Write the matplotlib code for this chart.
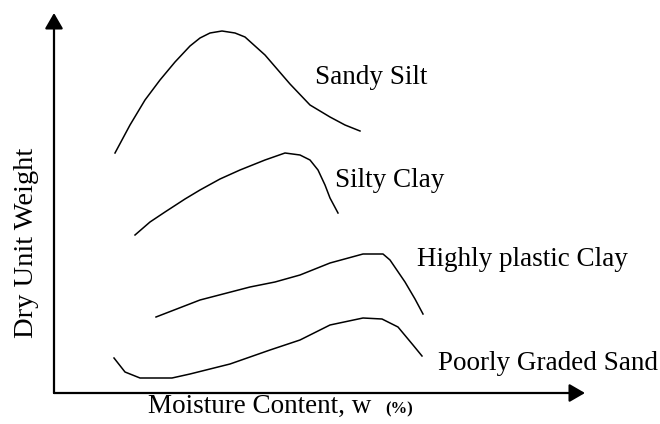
import matplotlib
matplotlib.use("Agg")
import matplotlib.pyplot as plt

# Compaction curves (schematic, arbitrary units: moisture content vs dry unit weight)
sandy_silt_w = [61, 76, 91, 106, 121, 136, 146, 156, 168, 181, 191, 211, 236, 256, 276, 291, 306]
sandy_silt_g = [240, 268, 293, 313, 331, 347, 355, 360, 362, 360, 356, 338, 309, 288, 276, 268, 262]

silty_clay_w = [81, 96, 111, 131, 146, 166, 186, 211, 231, 246, 256, 264, 271, 276, 284]
silty_clay_g = [158, 171, 181, 194, 203, 214, 223, 233, 240, 238, 233, 223, 208, 195, 180]

plastic_clay_w = [102, 146, 196, 221, 246, 276, 309, 329, 336, 351, 361, 369]
plastic_clay_g = [76, 93, 106, 111, 118, 130, 139, 139, 133, 111, 94, 79]

graded_sand_w = [60, 71, 86, 118, 136, 176, 216, 246, 276, 309, 328, 344, 359, 368]
graded_sand_g = [35, 21, 15, 15, 19, 29, 43, 53, 68, 75, 74, 66, 48, 37]

curves = [
    (sandy_silt_w, sandy_silt_g, "Sandy Silt", (261, 309)),
    (silty_clay_w, silty_clay_g, "Silty Clay", (281, 206)),
    (plastic_clay_w, plastic_clay_g, "Highly plastic Clay", (363, 127)),
    (graded_sand_w, graded_sand_g, "Poorly Graded Sand", (384, 23)),
]

x_max = 531
y_max = 380

plt.rcParams['font.family'] = ['Liberation Serif', 'DejaVu Serif']

fig = plt.figure(figsize=(6.6, 4.24), dpi=100)
ax = fig.add_axes([54 / 660, 31 / 424, 531 / 660, 380 / 424])
ax.set_xlim(0, x_max)
ax.set_ylim(0, y_max)
ax.axis("off")

# axes drawn as arrows
arrow = dict(arrowstyle="-|>,head_length=0.95,head_width=0.55", color="black",
             lw=1.6, shrinkA=0, shrinkB=0, mutation_scale=10)
ax.annotate("", xy=(x_max, 0), xytext=(0, 0), arrowprops=arrow, annotation_clip=False)
ax.annotate("", xy=(0, y_max), xytext=(0, 0), arrowprops=arrow, annotation_clip=False)

for w, g, name, pos in curves:
    ax.plot(w, g, color="black", lw=1.1)
    ax.text(pos[0], pos[1], name, fontsize=19.5, ha="left", va="baseline")

ax.text(94, -20, "Moisture Content, w", fontsize=19.5, ha="left", va="baseline", clip_on=False)
ax.text(331, -20, "(%)", fontsize=12, fontweight="bold", ha="left", va="baseline", clip_on=False)
ax.text(-27, 150, "Dry Unit Weight", fontsize=20.5, rotation=90, ha="center", va="center", clip_on=False)

fig.savefig("out.png", dpi=100)
